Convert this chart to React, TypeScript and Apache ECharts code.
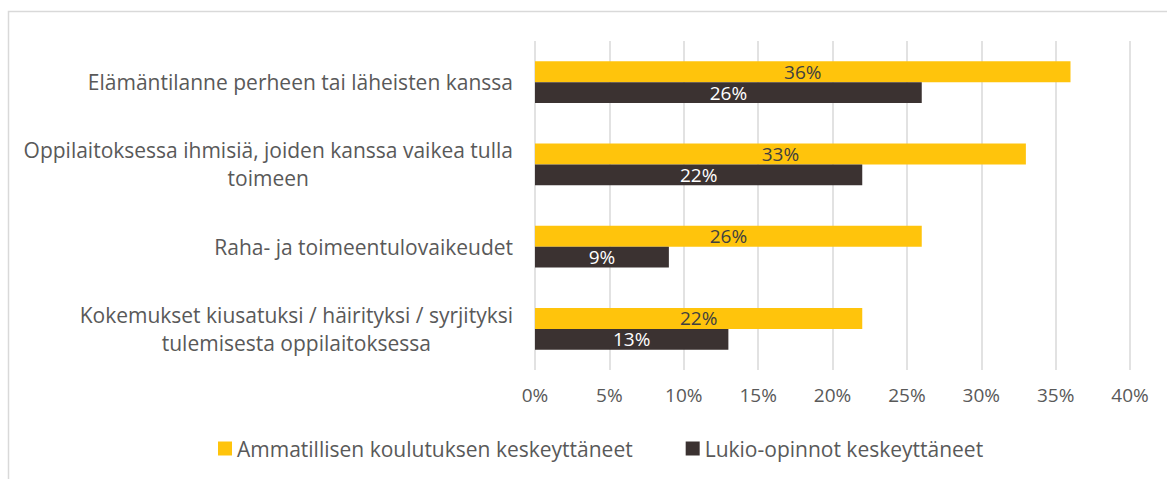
import React, { useEffect, useRef } from "react";
import * as echarts from "echarts";

const categories = [
  "Elämäntilanne perheen tai läheisten kanssa",
  "Oppilaitoksessa ihmisiä, joiden kanssa vaikea tulla\ntoimeen",
  "Raha- ja toimeentulovaikeudet",
  "Kokemukset kiusatuksi / häirityksi / syrjityksi\ntulemisesta oppilaitoksessa",
];
const seriesNames = [
  "Ammatillisen koulutuksen keskeyttäneet",
  "Lukio-opinnot keskeyttäneet",
];
const ammatillinen = [36, 33, 26, 22];
const lukio = [26, 22, 9, 13];
const xTicks = { min: 0, max: 40, interval: 5 };

const FONT = "'Open Sans', sans-serif";
const TEXT = "#595959";

export default function App() {
  const ref = useRef<HTMLDivElement>(null);
  useEffect(() => {
    if (!ref.current) return;
    const chart = echarts.init(ref.current, undefined, { renderer: "svg" });
    chart.setOption({
      animation: false,
      textStyle: { fontFamily: FONT },
      graphic: [
        {
          type: "rect",
          shape: { x: 8.5, y: 11.5, width: 1300, height: 600 },
          style: { fill: "none", stroke: "#d9d9d9", lineWidth: 1.5 },
          silent: true,
        },
      ],
      grid: { left: 535, right: 37, top: 41, bottom: 109, containLabel: false },
      legend: {
        left: 213,
        top: 433,
        itemWidth: 14,
        itemHeight: 14,
        itemGap: 53,
        icon: "rect",
        textStyle: { color: TEXT, fontSize: 21, fontFamily: FONT },
        data: seriesNames,
      },
      xAxis: {
        type: "value",
        min: xTicks.min,
        max: xTicks.max,
        interval: xTicks.interval,
        axisLine: { show: false },
        axisTick: { show: false },
        splitLine: { show: true, lineStyle: { color: "#d9d9d9", width: 1.5 } },
        axisLabel: {
          color: TEXT,
          fontSize: 19,
          fontFamily: FONT,
          margin: 15,
          formatter: (v: number) => `${v}%`,
        },
      },
      yAxis: {
        type: "category",
        inverse: true,
        data: categories,
        axisLine: { show: false },
        axisTick: { show: false },
        splitLine: { show: false },
        axisLabel: {
          margin: 22,
          color: TEXT,
          fontSize: 21,
          fontFamily: FONT,
          lineHeight: 28,
          formatter: (v: string) =>
            v
              .split("\n")
              .map((l) => `{c|${l}}`)
              .join("\n"),
          rich: {
            c: {
              align: "center",
              color: TEXT,
              fontSize: 21,
              fontFamily: FONT,
              lineHeight: 28,
            },
          },
        },
      },
      series: [
        {
          name: seriesNames[0],
          type: "bar",
          data: ammatillinen,
          barGap: "0%",
          barCategoryGap: "49%",
          itemStyle: { color: "#FFC40C" },
          label: {
            show: true,
            position: "inside",
            color: "#404040",
            fontSize: 19,
            fontFamily: FONT,
            formatter: "{c}%",
          },
        },
        {
          name: seriesNames[1],
          type: "bar",
          data: lukio,
          barGap: "0%",
          barCategoryGap: "49%",
          itemStyle: { color: "#3B3231" },
          label: {
            show: true,
            position: "inside",
            color: "#ffffff",
            fontSize: 19,
            fontFamily: FONT,
            formatter: "{c}%",
          },
        },
      ],
    });
    return () => chart.dispose();
  }, []);
  return (
    <div
      ref={ref}
      style={{ position: "absolute", left: 0, top: 0, width: 1167, height: 479, background: "#fff" }}
    />
  );
}
